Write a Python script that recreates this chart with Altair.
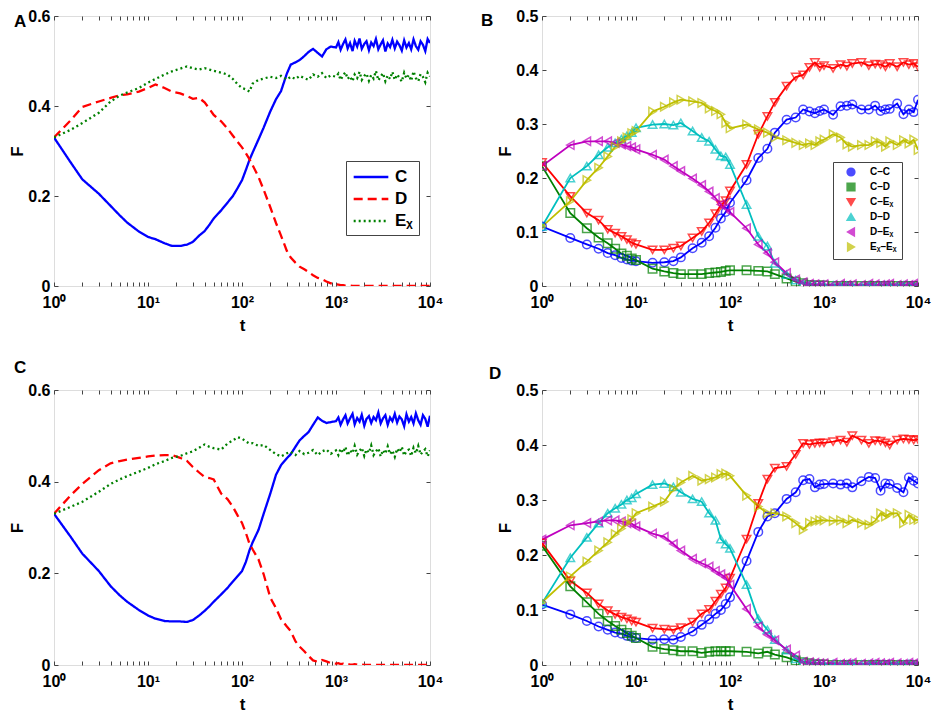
import altair as alt
import pandas as pd

FONT = "Liberation Sans"
FRAME = "#808080"

# ---------------- panels A and C (lines) ----------------
t_early = [1, 1.5, 2, 3, 4, 5, 6, 8, 10, 12, 15, 18, 22, 26, 30, 35, 40, 45, 50, 60,
           70, 80, 90, 100, 110, 120, 130, 150, 170, 200, 230, 260, 300, 330, 370, 410,
           460, 510, 570, 640, 710, 790, 880]
t_late = [1000, 1060, 1120, 1190, 1260, 1330, 1410, 1500, 1580, 1680, 1780, 1880, 2000,
          2110, 2240, 2370, 2510, 2660, 2820, 2990, 3160, 3350, 3550, 3760, 3980, 4220,
          4470, 4730, 5010, 5310, 5620, 5960, 6310, 6680, 7080, 7500, 7940, 8410, 8910,
          9440, 10000]

A_C = [0.330, 0.275, 0.237, 0.205, 0.178, 0.157, 0.141, 0.121, 0.109, 0.104,
       0.095, 0.089, 0.089, 0.092, 0.098, 0.112, 0.122, 0.136, 0.150, 0.168,
       0.185, 0.200, 0.218, 0.235, 0.258, 0.280, 0.297, 0.326, 0.352, 0.388,
       0.415, 0.433, 0.472, 0.492, 0.497, 0.502, 0.511, 0.520, 0.527, 0.518,
       0.510, 0.526, 0.532,
       0.530, 0.542, 0.525, 0.538, 0.548, 0.528, 0.540, 0.522, 0.545, 0.532,
       0.550, 0.527, 0.538, 0.544, 0.524, 0.541, 0.533, 0.549, 0.526, 0.537,
       0.546, 0.521, 0.539, 0.531, 0.547, 0.528, 0.543, 0.535, 0.523, 0.546,
       0.530, 0.540, 0.526, 0.548, 0.533, 0.525, 0.544, 0.536, 0.522, 0.549, 0.540]
A_D = [0.330, 0.368, 0.398, 0.410, 0.418, 0.424, 0.426, 0.432, 0.440, 0.448,
       0.440, 0.432, 0.428, 0.422, 0.416, 0.418, 0.408, 0.394, 0.380, 0.366,
       0.350, 0.334, 0.320, 0.308, 0.295, 0.282, 0.268, 0.242, 0.214, 0.175,
       0.140, 0.112, 0.078, 0.063, 0.052, 0.043, 0.037, 0.031, 0.024, 0.018,
       0.015, 0.010, 0.006,
       0.004, 0.003, 0.002, 0.002, 0.001, 0.001, 0.001, 0.000, 0.000, 0.000,
       0.000, 0.000, 0.000, 0.000, 0.000, 0.000, 0.000, 0.000, 0.000, 0.000,
       0.000, 0.000, 0.000, 0.000, 0.000, 0.000, 0.000, 0.000, 0.000, 0.000,
       0.000, 0.000, 0.000, 0.000, 0.000, 0.000, 0.000, 0.000, 0.000, 0.000, 0.000]
A_E = [0.330, 0.347, 0.362, 0.385, 0.410, 0.423, 0.430, 0.440, 0.452, 0.460,
       0.470, 0.477, 0.483, 0.488, 0.484, 0.481, 0.484, 0.481, 0.478, 0.474,
       0.470, 0.460, 0.448, 0.440, 0.437, 0.432, 0.450, 0.458, 0.461, 0.465,
       0.462, 0.467, 0.459, 0.465, 0.460, 0.467, 0.462, 0.458, 0.470, 0.465,
       0.473, 0.462, 0.468,
       0.465, 0.472, 0.458, 0.468, 0.475, 0.460, 0.466, 0.455, 0.470, 0.462,
       0.476, 0.458, 0.467, 0.472, 0.456, 0.469, 0.461, 0.478, 0.457, 0.466,
       0.473, 0.455, 0.468, 0.460, 0.476, 0.458, 0.470, 0.463, 0.454, 0.474,
       0.461, 0.469, 0.456, 0.477, 0.462, 0.455, 0.471, 0.465, 0.453, 0.474, 0.466]

C_C = [0.330, 0.280, 0.243, 0.205, 0.172, 0.152, 0.138, 0.120, 0.108, 0.101,
       0.096, 0.095, 0.095, 0.094, 0.098, 0.108, 0.118, 0.128, 0.138, 0.154,
       0.168, 0.182, 0.194, 0.205, 0.225, 0.250, 0.268, 0.295, 0.330, 0.374,
       0.415, 0.436, 0.451, 0.460, 0.476, 0.490, 0.500, 0.508, 0.524, 0.540,
       0.533, 0.528, 0.530,
       0.532, 0.540, 0.524, 0.536, 0.545, 0.527, 0.538, 0.548, 0.525, 0.539,
       0.531, 0.546, 0.522, 0.537, 0.543, 0.528, 0.541, 0.534, 0.551, 0.527,
       0.538, 0.545, 0.524, 0.540, 0.532, 0.548, 0.529, 0.542, 0.536, 0.521,
       0.547, 0.531, 0.541, 0.527, 0.549, 0.534, 0.524, 0.545, 0.537, 0.520, 0.544]
C_D = [0.330, 0.370, 0.395, 0.425, 0.440, 0.445, 0.448, 0.452, 0.455, 0.457,
       0.458, 0.458, 0.452, 0.445, 0.432, 0.420, 0.410, 0.408, 0.405, 0.374,
       0.362, 0.345, 0.326, 0.310, 0.288, 0.265, 0.252, 0.230, 0.198, 0.147,
       0.124, 0.100, 0.084, 0.074, 0.052, 0.040, 0.030, 0.020, 0.010, 0.007,
       0.011, 0.008, 0.004,
       0.003, 0.004, 0.002, 0.003, 0.001, 0.002, 0.001, 0.001, 0.002, 0.001,
       0.000, 0.001, 0.000, 0.000, 0.000, 0.000, 0.000, 0.000, 0.000, 0.000,
       0.000, 0.000, 0.000, 0.000, 0.000, 0.000, 0.000, 0.000, 0.000, 0.000,
       0.000, 0.000, 0.000, 0.000, 0.000, 0.000, 0.000, 0.000, 0.000, 0.000, 0.000]
C_E = [0.330, 0.345, 0.356, 0.378, 0.395, 0.405, 0.412, 0.422, 0.430, 0.438,
       0.445, 0.452, 0.456, 0.462, 0.466, 0.474, 0.481, 0.476, 0.473, 0.470,
       0.483, 0.490, 0.497, 0.494, 0.488, 0.483, 0.484, 0.478, 0.480, 0.469,
       0.460, 0.455, 0.462, 0.465, 0.458, 0.467, 0.460, 0.463, 0.469, 0.458,
       0.466, 0.470, 0.461,
       0.468, 0.458, 0.472, 0.463, 0.476, 0.457, 0.469, 0.462, 0.478, 0.459,
       0.467, 0.474, 0.456, 0.470, 0.463, 0.479, 0.458, 0.466, 0.473, 0.455,
       0.469, 0.461, 0.477, 0.460, 0.468, 0.454, 0.472, 0.464, 0.476, 0.457,
       0.467, 0.470, 0.456, 0.474, 0.462, 0.478, 0.459, 0.466, 0.471, 0.455, 0.468]

NAMES_AC = ["C", "D", "E\u1d6a"]
COLORS_AC = ["#0000ff", "#ff0000", "#008000"]
DASH_AC = [[1, 0], [9, 5], [2, 3]]

# ---------------- panels B and D (pair fractions) ----------------
t_pair = [1, 2, 3, 4, 5, 6, 7, 8, 9, 10, 15, 20, 25, 30, 40, 50, 60, 70, 80, 90,
          100, 150, 200, 250, 300, 400, 500, 600, 700, 800, 900,
          1000, 1250, 1500, 1750, 2000, 2500, 3000, 3500, 4000, 4500, 5000, 6000,
          7000, 8000, 9000, 10000]

B_CC = [0.110, 0.089, 0.077, 0.069, 0.061, 0.057, 0.052, 0.049, 0.047, 0.046,
        0.043, 0.044, 0.046, 0.053, 0.070, 0.080, 0.092, 0.108, 0.125, 0.137,
        0.154, 0.196, 0.237, 0.254, 0.284, 0.308, 0.312, 0.327, 0.323, 0.320, 0.324,
        0.327, 0.317, 0.333, 0.334, 0.336, 0.327, 0.327, 0.334, 0.324, 0.327, 0.328,
        0.338, 0.318, 0.327, 0.322, 0.345]
B_CD = [0.222, 0.135, 0.107, 0.090, 0.079, 0.069, 0.060, 0.056, 0.051, 0.048,
        0.032, 0.027, 0.024, 0.022, 0.022, 0.022, 0.024, 0.025, 0.026, 0.028,
        0.029, 0.029, 0.028, 0.027, 0.022, 0.014, 0.008, 0.005, 0.002, 0.001, 0.001,
        0.001, 0.000, 0.000, 0.000, 0.000, 0.000, 0.000, 0.000, 0.000, 0.000, 0.000,
        0.000, 0.000, 0.000, 0.000, 0.000]
B_CE = [0.229, 0.166, 0.135, 0.122, 0.105, 0.098, 0.092, 0.086, 0.080, 0.077,
        0.067, 0.067, 0.070, 0.074, 0.089, 0.101, 0.117, 0.134, 0.150, 0.158,
        0.176, 0.225, 0.281, 0.314, 0.340, 0.370, 0.387, 0.391, 0.405, 0.414, 0.405,
        0.408, 0.403, 0.410, 0.407, 0.412, 0.414, 0.408, 0.411, 0.410, 0.406, 0.412,
        0.406, 0.414, 0.410, 0.412, 0.406]
B_DD = [0.110, 0.200, 0.222, 0.243, 0.257, 0.265, 0.272, 0.278, 0.284, 0.293,
        0.299, 0.300, 0.298, 0.302, 0.287, 0.275, 0.268, 0.253, 0.241, 0.239,
        0.225, 0.151, 0.092, 0.074, 0.042, 0.021, 0.011, 0.005, 0.002, 0.002, 0.001,
        0.001, 0.001, 0.000, 0.001, 0.000, 0.000, 0.001, 0.000, 0.000, 0.001, 0.000,
        0.000, 0.001, 0.000, 0.000, 0.001]
B_DE = [0.222, 0.261, 0.268, 0.268, 0.268, 0.265, 0.262, 0.259, 0.257, 0.253,
        0.243, 0.234, 0.222, 0.213, 0.199, 0.187, 0.175, 0.163, 0.151, 0.145,
        0.137, 0.107, 0.077, 0.061, 0.044, 0.024, 0.012, 0.007, 0.004, 0.003, 0.002,
        0.003, 0.002, 0.004, 0.002, 0.003, 0.002, 0.004, 0.003, 0.002, 0.003, 0.004,
        0.002, 0.003, 0.002, 0.004, 0.003]
B_EE = [0.110, 0.157, 0.196, 0.219, 0.240, 0.258, 0.268, 0.275, 0.283, 0.287,
        0.323, 0.332, 0.340, 0.345, 0.342, 0.339, 0.329, 0.324, 0.318, 0.302,
        0.292, 0.299, 0.290, 0.284, 0.275, 0.270, 0.265, 0.261, 0.264, 0.261, 0.268,
        0.271, 0.281, 0.275, 0.262, 0.258, 0.261, 0.261, 0.268, 0.265, 0.258, 0.268,
        0.261, 0.270, 0.264, 0.271, 0.252]

D_CC = [0.110, 0.092, 0.080, 0.070, 0.064, 0.059, 0.057, 0.053, 0.051, 0.049,
        0.046, 0.047, 0.046, 0.051, 0.061, 0.073, 0.083, 0.093, 0.100, 0.111,
        0.123, 0.189, 0.242, 0.270, 0.276, 0.302, 0.314, 0.336, 0.338, 0.323, 0.328,
        0.329, 0.330, 0.328, 0.330, 0.323, 0.334, 0.342, 0.340, 0.317, 0.330, 0.329,
        0.322, 0.314, 0.341, 0.335, 0.330]
D_CD = [0.217, 0.143, 0.114, 0.093, 0.080, 0.071, 0.064, 0.058, 0.053, 0.049,
        0.033, 0.029, 0.027, 0.025, 0.025, 0.022, 0.024, 0.025, 0.025, 0.025,
        0.025, 0.024, 0.021, 0.024, 0.019, 0.014, 0.008, 0.005, 0.003, 0.001, 0.001,
        0.001, 0.000, 0.000, 0.000, 0.000, 0.000, 0.000, 0.000, 0.000, 0.000, 0.000,
        0.000, 0.000, 0.000, 0.000, 0.000]
D_CE = [0.222, 0.153, 0.131, 0.111, 0.099, 0.092, 0.087, 0.084, 0.080, 0.078,
        0.067, 0.065, 0.064, 0.068, 0.078, 0.093, 0.101, 0.116, 0.129, 0.140,
        0.158, 0.229, 0.294, 0.338, 0.358, 0.361, 0.383, 0.403, 0.401, 0.403, 0.404,
        0.404, 0.406, 0.409, 0.405, 0.417, 0.409, 0.403, 0.408, 0.407, 0.404, 0.400,
        0.409, 0.411, 0.410, 0.409, 0.410]
D_DD = [0.112, 0.195, 0.232, 0.258, 0.276, 0.285, 0.292, 0.300, 0.304, 0.311,
        0.328, 0.330, 0.324, 0.314, 0.302, 0.297, 0.276, 0.263, 0.229, 0.220,
        0.212, 0.146, 0.084, 0.064, 0.046, 0.027, 0.011, 0.005, 0.003, 0.002, 0.002,
        0.001, 0.002, 0.001, 0.001, 0.002, 0.001, 0.001, 0.002, 0.001, 0.001, 0.002,
        0.001, 0.001, 0.002, 0.001, 0.002]
D_DE = [0.228, 0.254, 0.258, 0.261, 0.263, 0.263, 0.261, 0.258, 0.257, 0.252,
        0.239, 0.233, 0.220, 0.208, 0.193, 0.185, 0.179, 0.171, 0.165, 0.159,
        0.146, 0.102, 0.070, 0.055, 0.045, 0.028, 0.017, 0.006, 0.005, 0.004, 0.003,
        0.003, 0.004, 0.002, 0.003, 0.004, 0.002, 0.003, 0.004, 0.003, 0.002, 0.004,
        0.003, 0.002, 0.004, 0.003, 0.003]
D_EE = [0.114, 0.161, 0.188, 0.208, 0.223, 0.238, 0.248, 0.258, 0.265, 0.276,
        0.288, 0.297, 0.320, 0.332, 0.344, 0.335, 0.338, 0.341, 0.347, 0.348,
        0.344, 0.308, 0.288, 0.276, 0.276, 0.270, 0.258, 0.246, 0.258, 0.261, 0.263,
        0.263, 0.262, 0.263, 0.258, 0.264, 0.258, 0.255, 0.262, 0.276, 0.270, 0.275,
        0.276, 0.258, 0.273, 0.264, 0.264]

NAMES_P = ["C\u2013C", "C\u2013D", "C\u2013E\u1d6a", "D\u2013D", "D\u2013E\u1d6a", "E\u1d6a\u2013E\u1d6a"]
COLORS_P = ["#0000ff", "#008000", "#ff0000", "#00bfbf", "#bf00bf", "#bfbf00"]
SHAPES_P = ["circle", "square", "triangle-down", "triangle-up", "triangle-left", "triangle-right"]
FILLOP_P = [0, 0, 1, 1, 1, 1]

# axis tick positions / labels
X_TICKS = [1, 2, 3, 4, 5, 6, 7, 8, 9, 10, 20, 30, 40, 50, 60, 70, 80, 90,
           100, 200, 300, 400, 500, 600, 700, 800, 900,
           1000, 2000, 3000, 4000, 5000, 6000, 7000, 8000, 9000, 10000]
X_LABEL_EXPR = ("datum.value == 1 ? '10\u2070' : datum.value == 10 ? '10\u00b9' : "
                "datum.value == 100 ? '10\u00b2' : datum.value == 1000 ? '10\u00b3' : "
                "datum.value == 10000 ? '10\u2074' : ''")
Y_LABEL_EXPR = "datum.value == 0 ? '0' : format(datum.value, '.1f')"
Y_TICKS_AC = [0, 0.2, 0.4, 0.6]
Y_TICKS_BD = [0, 0.1, 0.2, 0.3, 0.4, 0.5]

TICK = {"expr": "-4"}
W = 376


def long_frame(t, names, series):
    rows = []
    for name, vals in zip(names, series):
        for ti, v in zip(t, vals):
            rows.append({"t": ti, "F": v, "s": name})
    return pd.DataFrame(rows)


def axes(yticks):
    xb = alt.Axis(orient="bottom", values=X_TICKS, labelExpr=X_LABEL_EXPR, title="t",
                  tickSize=TICK, tickColor="#444", domain=False, grid=False,
                  labelFont=FONT, labelFontSize=16, labelFontWeight="bold", labelColor="black",
                  labelPadding=12, labelOverlap=False, labelFlush=False, labelBound=False,
                  titleFont=FONT, titleFontSize=17, titleFontWeight="bold", titleColor="black",
                  titlePadding=7)
    yl = alt.Axis(orient="left", values=yticks, labelExpr=Y_LABEL_EXPR, title="F",
                  tickSize=TICK, tickColor="#444", domain=False, grid=False,
                  labelFont=FONT, labelFontSize=16, labelFontWeight="bold", labelColor="black",
                  labelPadding=8, labelOverlap=False, labelFlush=False, labelBound=False,
                  titleFont=FONT, titleFontSize=17, titleFontWeight="bold", titleColor="black",
                  titlePadding=1)
    xt = alt.Axis(orient="top", values=X_TICKS, labels=False, title=None, tickSize=TICK,
                  tickColor="#444", domain=False, grid=False)
    yr = alt.Axis(orient="right", values=yticks, labels=False, title=None, tickSize=TICK,
                  tickColor="#444", domain=False, grid=False)
    return xb, yl, xt, yr


def letter_layer(letter, lx, ly):
    return alt.Chart(pd.DataFrame({"lab": [letter]})).mark_text(
        font=FONT, fontSize=17, fontWeight="bold", align="left", baseline="alphabetic",
        color="black").encode(text="lab:N", x=alt.value(lx), y=alt.value(ly))


def line_panel(df, letter, lx, ly, show_legend, h):
    xs = alt.Scale(type="log", domain=[1, 10000], nice=False)
    ys = alt.Scale(domain=[0, 0.6], nice=False, zero=False)
    xb, yl, xt, yr = axes(Y_TICKS_AC)
    if show_legend:
        leg = alt.Legend(orient="none", legendX=292, legendY=145, title=None,
                         fillColor="white", strokeColor="#444", padding=6,
                         symbolType="M-2,0L2,0", symbolSize=300, symbolStrokeWidth=2.5,
                         symbolOffset=9,
                         labelFont=FONT, labelFontSize=17, labelFontWeight="bold",
                         labelColor="black", rowPadding=4, labelOffset=14)
    else:
        leg = None
    lines = alt.Chart(df).mark_line(strokeWidth=2.3, clip=True).encode(
        x=alt.X("t:Q", scale=xs, axis=xb),
        y=alt.Y("F:Q", scale=ys, axis=yl),
        color=alt.Color("s:N", scale=alt.Scale(domain=NAMES_AC, range=COLORS_AC),
                        sort=NAMES_AC, legend=leg),
        strokeDash=alt.StrokeDash("s:N", scale=alt.Scale(domain=NAMES_AC, range=DASH_AC),
                                  sort=NAMES_AC, legend=leg),
    )
    mirror = alt.Chart(df).mark_point(opacity=0).encode(
        x=alt.X("t:Q", scale=xs, axis=xt),
        y=alt.Y("F:Q", scale=ys, axis=yr),
    )
    return alt.layer(lines, mirror, letter_layer(letter, lx, ly)).resolve_axis(
        x="independent", y="independent").properties(width=W, height=h)


def pair_panel(df, letter, lx, ly, show_legend, h):
    xs = alt.Scale(type="log", domain=[1, 10000], nice=False)
    ys = alt.Scale(domain=[0, 0.5], nice=False, zero=False)
    xb, yl, xt, yr = axes(Y_TICKS_BD)
    if show_legend:
        leg = alt.Legend(orient="none", legendX=291, legendY=146, title=None,
                         fillColor="white", strokeColor="#444", padding=5,
                         symbolSize=60, symbolStrokeWidth=1.5, symbolOffset=8,
                         labelFont=FONT, labelFontSize=10, labelFontWeight="bold",
                         labelColor="black", rowPadding=1, labelOffset=14)
    else:
        leg = None
    cscale = alt.Scale(domain=NAMES_P, range=COLORS_P)
    lines = alt.Chart(df).mark_line(strokeWidth=1.8, clip=True).encode(
        x=alt.X("t:Q", scale=xs, axis=xb),
        y=alt.Y("F:Q", scale=ys, axis=yl),
        color=alt.Color("s:N", scale=cscale, sort=NAMES_P, legend=leg),
    )
    pts = alt.Chart(df).mark_point(filled=True, strokeWidth=1.5, size=72, clip=True).encode(
        x=alt.X("t:Q", scale=xs, axis=None),
        y=alt.Y("F:Q", scale=ys, axis=None),
        color=alt.Color("s:N", scale=cscale, sort=NAMES_P, legend=leg),
        stroke=alt.Stroke("s:N", scale=cscale, sort=NAMES_P, legend=leg),
        shape=alt.Shape("s:N", scale=alt.Scale(domain=NAMES_P, range=SHAPES_P),
                        sort=NAMES_P, legend=leg),
        fillOpacity=alt.FillOpacity("s:N", scale=alt.Scale(domain=NAMES_P, range=FILLOP_P),
                                    sort=NAMES_P, legend=leg),
    )
    mirror = alt.Chart(df).mark_point(opacity=0).encode(
        x=alt.X("t:Q", scale=xs, axis=xt),
        y=alt.Y("F:Q", scale=ys, axis=yr),
    )
    return alt.layer(lines, pts, mirror, letter_layer(letter, lx, ly)).resolve_axis(
        x="independent", y="independent").properties(width=W, height=h)


t_all = t_early + t_late
dfA = long_frame(t_all, NAMES_AC, [A_C, A_D, A_E])
dfC = long_frame(t_all, NAMES_AC, [C_C, C_D, C_E])
dfB = long_frame(t_pair, NAMES_P, [B_CC, B_CD, B_CE, B_DD, B_DE, B_EE])
dfD = long_frame(t_pair, NAMES_P, [D_CC, D_CD, D_CE, D_DD, D_DE, D_EE])

pA = line_panel(dfA, "A", -40, 11, True, 270)
pB = pair_panel(dfB, "B", -61, 10, True, 270)
pC = line_panel(dfC, "C", -40, -17, False, 275)
pD = pair_panel(dfD, "D", -53, -11, False, 275)

chart = alt.concat(pA, pB, pC, pD, columns=2, spacing={"row": 24, "column": 36}).resolve_scale(
    color="independent", strokeDash="independent", shape="independent",
    stroke="independent", fillOpacity="independent", x="independent", y="independent"
).configure_view(stroke=FRAME, strokeWidth=1).properties(
    padding={"left": 0, "top": -1, "right": 0, "bottom": 0}
).configure(background="white")

chart.save("out.html", embed_options={"renderer": "svg", "actions": False})
